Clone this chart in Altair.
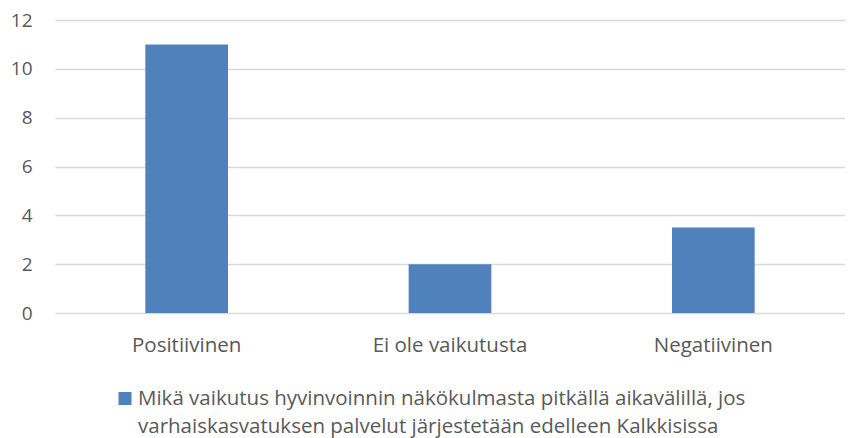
import altair as alt
import pandas as pd

categories = ["Positiivinen", "Ei ole vaikutusta", "Negatiivinen"]
values = [11, 2, 3.5]
series_name = "Mikä vaikutus hyvinvoinnin näkökulmasta pitkällä aikavälillä, jos varhaiskasvatuksen palvelut järjestetään edelleen Kalkkisissa"
legend_lines = [
    "Mikä vaikutus hyvinvoinnin näkökulmasta pitkällä aikavälillä, jos",
    "varhaiskasvatuksen palvelut järjestetään edelleen Kalkkisissa",
]
y_ticks = [0, 2, 4, 6, 8, 10, 12]

df = pd.DataFrame({"cat": categories, "val": values, "series": [series_name] * 3})
legend_df = pd.DataFrame({"series": [series_name]})

FONT = "Open Sans"
GRAY = "#595959"
BLUE = "#4f81bd"

bars = alt.Chart(df).mark_bar(color=BLUE).encode(
    x=alt.X(
        "cat:N",
        sort=categories,
        scale=alt.Scale(paddingInner=0.686, paddingOuter=0.343),
        axis=alt.Axis(
            title=None, labelAngle=0, domain=False, ticks=False,
            labelPadding=22, labelFontSize=20.5, labelColor=GRAY, labelFont=FONT,
        ),
    ),
    y=alt.Y(
        "val:Q",
        scale=alt.Scale(domain=[0, 12], nice=False),
        axis=alt.Axis(
            title=None, values=y_ticks, domain=False, ticks=False,
            labelPadding=23, labelFontSize=19, labelColor=GRAY, labelFont=FONT,
            gridColor="#d9d9d9", gridWidth=1.5,
        ),
    ),
)

legend_symbol = alt.Chart(legend_df).mark_square(
    color=BLUE, size=169, opacity=1, strokeWidth=0
).encode(x=alt.value(70), y=alt.value(378.5))

legend_text = alt.Chart(legend_df).mark_text(
    align="left", baseline="alphabetic", font=FONT, fontSize=20.5,
    color=GRAY, lineHeight=28,
).encode(x=alt.value(83), y=alt.value(385), text=alt.value(legend_lines))

chart = alt.layer(bars, legend_symbol, legend_text).properties(
    width=790, height=293,
    autosize=alt.AutoSizeParams(type="none"),
    padding={"left": 47, "top": 12, "right": 0, "bottom": 125},
).configure_view(stroke=None)

chart.save("out.html", embed_options={"renderer": "svg", "actions": False})
